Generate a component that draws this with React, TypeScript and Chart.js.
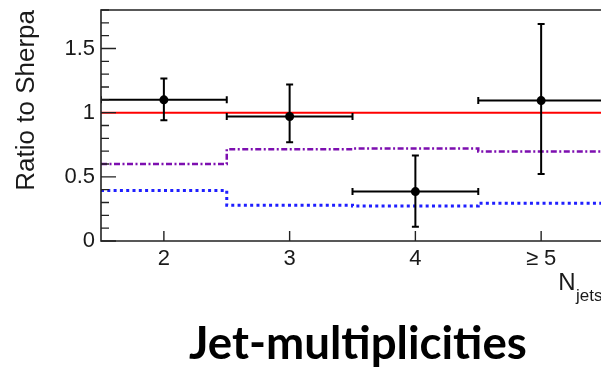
import { useEffect, useRef } from 'react';
import { Chart, registerables } from 'chart.js';

Chart.register(...registerables);

// ---- data ----
const binEdges = [1.5, 2.5, 3.5, 4.5, 5.5];
const binCenters = [2, 3, 4, 5];
const categoryLabels = ['2', '3', '4', '≥ 5'];
const dataRatio = [1.10, 0.97, 0.385, 1.094];
const dataHigh = [1.266, 1.22, 0.667, 1.69];
const dataLow = [0.94, 0.77, 0.112, 0.523];
const sherpaRatio = [1, 1, 1, 1];
const purpleRatio = [0.60, 0.715, 0.72, 0.698];
const blueRatio = [0.393, 0.279, 0.272, 0.294];
const yMajorTicks = [0, 0.5, 1, 1.5];
const yMajorLabels = ['0', '0.5', '1', '1.5'];
const yMinorStep = 0.1;
const yMin = 0;
const yMax = 1.8;
const xMin = 1.5;
const xMax = 5.476;
const yTitle = 'Ratio to Sherpa';
const xTitleMain = 'N';
const xTitleSub = 'jets';
const chartTitle = 'Jet-multiplicities';

const FONT = "'Liberation Sans', Arial, Helvetica, sans-serif";
const TEXT = '#1a1a1a';

const stepPoints = (vals: number[]) =>
  binEdges.map((e, i) => ({ x: e, y: vals[Math.min(i, vals.length - 1)] }));

const zeroPadding = (s: any) => {
  s.paddingTop = 0;
  s.paddingBottom = 0;
  s.paddingLeft = 0;
  s.paddingRight = 0;
};

const decorPlugin = {
  id: 'decor',
  beforeDatasetDraw(chart: any, args: any) {
    if (args.index !== 0) return;
    const { ctx, chartArea } = chart;
    const xs = chart.scales.x;
    const ys = chart.scales.y;
    ctx.save();
    ctx.beginPath();
    ctx.rect(chartArea.left, chartArea.top, chartArea.right - chartArea.left, chartArea.bottom - chartArea.top);
    ctx.clip();
    ctx.strokeStyle = '#000';
    ctx.lineWidth = 2;
    const cap = 3.5;
    for (let i = 0; i < binCenters.length; i++) {
      const cx = xs.getPixelForValue(binCenters[i]);
      const cy = ys.getPixelForValue(dataRatio[i]);
      const x0 = xs.getPixelForValue(binEdges[i]);
      const x1 = xs.getPixelForValue(binEdges[i + 1]);
      const yh = ys.getPixelForValue(dataHigh[i]);
      const yl = ys.getPixelForValue(dataLow[i]);
      ctx.beginPath();
      ctx.moveTo(x0, cy); ctx.lineTo(x1, cy);
      ctx.moveTo(x0, cy - cap); ctx.lineTo(x0, cy + cap);
      ctx.moveTo(x1, cy - cap); ctx.lineTo(x1, cy + cap);
      ctx.moveTo(cx, yh); ctx.lineTo(cx, yl);
      ctx.moveTo(cx - cap, yh); ctx.lineTo(cx + cap, yh);
      ctx.moveTo(cx - cap, yl); ctx.lineTo(cx + cap, yl);
      ctx.stroke();
    }
    ctx.restore();
  },
  afterDraw(chart: any) {
    const { ctx, chartArea } = chart;
    const xs = chart.scales.x;
    const ys = chart.scales.y;
    const { left, right, top, bottom } = chartArea;
    ctx.save();
    ctx.strokeStyle = '#222';
    ctx.lineWidth = 1.6;
    ctx.beginPath();
    ctx.moveTo(right + 2, top); ctx.lineTo(left, top); ctx.lineTo(left, bottom); ctx.lineTo(right + 2, bottom);
    ctx.stroke();
    ctx.lineWidth = 1.4;
    ctx.beginPath();
    for (let v = yMin; v <= yMax + 1e-9; v += yMinorStep) {
      const y = ys.getPixelForValue(v);
      const major = yMajorTicks.some((m) => Math.abs(m - v) < 1e-6);
      ctx.moveTo(left, y);
      ctx.lineTo(left + (major ? 15 : 8), y);
    }
    for (const c of binCenters) {
      const x = xs.getPixelForValue(c);
      ctx.moveTo(x, bottom);
      ctx.lineTo(x, bottom - 10);
    }
    ctx.stroke();

    // x-axis title with subscript
    ctx.fillStyle = TEXT;
    ctx.textBaseline = 'alphabetic';
    ctx.textAlign = 'left';
    ctx.font = `24px ${FONT}`;
    const nx = xs.getPixelForValue(5) + 17;
    ctx.fillText(xTitleMain, nx, bottom + 49);
    const nw = ctx.measureText(xTitleMain).width;
    ctx.font = `17px ${FONT}`;
    ctx.fillText(xTitleSub, nx + nw + 0.5, bottom + 60);

    // big title
    ctx.fillStyle = '#000';
    ctx.font = `bold 100px Lato, 'Open Sans', sans-serif`;
    const w100 = ctx.measureText(chartTitle).width;
    const size = (100 * 338) / w100;
    ctx.font = `bold ${size}px Lato, 'Open Sans', sans-serif`;
    ctx.fillText(chartTitle, 189, 359);
    ctx.restore();
  },
};

export default function App() {
  const ref = useRef<HTMLCanvasElement | null>(null);
  useEffect(() => {
    if (!ref.current) return;
    const chart = new Chart(ref.current, {
      type: 'scatter',
      data: {
        datasets: [
          {
            type: 'scatter',
            data: binCenters.map((x, i) => ({ x, y: dataRatio[i] })),
            pointRadius: 4.5,
            pointHoverRadius: 4.5,
            backgroundColor: '#000',
            borderWidth: 0,
          } as any,
          {
            type: 'line',
            data: stepPoints(sherpaRatio),
            borderColor: '#ff0000',
            borderWidth: 2,
            pointRadius: 0,
            stepped: true,
            fill: false,
          } as any,
          {
            type: 'line',
            data: stepPoints(purpleRatio),
            borderColor: '#7d0fb0',
            borderWidth: 2.5,
            borderDash: [6, 2.5, 2, 2.5],
            pointRadius: 0,
            stepped: true,
            fill: false,
          } as any,
          {
            type: 'line',
            data: stepPoints(blueRatio),
            borderColor: '#1f1fff',
            borderWidth: 3,
            borderDash: [3, 3.3],
            pointRadius: 0,
            stepped: true,
            fill: false,
          } as any,
        ],
      },
      options: {
        responsive: false,
        animation: false,
        events: [],
        layout: { autoPadding: false, padding: { top: 10, left: 0, right: 0, bottom: 0 } },
        plugins: { legend: { display: false }, tooltip: { enabled: false }, title: { display: false } },
        scales: {
          x: {
            type: 'linear',
            min: xMin,
            max: xMax,
            grid: { display: false, drawTicks: false },
            border: { display: false },
            afterBuildTicks: (s: any) => {
              s.ticks = binCenters.map((v) => ({ value: v }));
            },
            afterFit: (s: any) => {
              s.height = 129;
              zeroPadding(s);
            },
            ticks: {
              autoSkip: false,
              maxRotation: 0,
              padding: 5,
              color: TEXT,
              font: { family: FONT, size: 22 },
              callback: (v: any) => {
                const i = binCenters.indexOf(Number(v));
                return i >= 0 ? categoryLabels[i] : '';
              },
            },
          },
          y: {
            type: 'linear',
            min: yMin,
            max: yMax,
            grid: { display: false, drawTicks: false },
            border: { display: false },
            afterBuildTicks: (s: any) => {
              s.ticks = yMajorTicks.map((v) => ({ value: v }));
            },
            afterFit: (s: any) => {
              s.width = 101;
              zeroPadding(s);
            },
            ticks: {
              padding: 6,
              color: TEXT,
              font: { family: FONT, size: 22 },
              callback: (v: any) => {
                const i = yMajorTicks.indexOf(Number(v));
                return i >= 0 ? yMajorLabels[i] : '';
              },
            },
            title: {
              display: true,
              text: yTitle,
              align: 'end',
              color: TEXT,
              font: { family: FONT, size: 26 },
              padding: { top: 11, bottom: 0 },
            },
          },
        },
      },
      plugins: [decorPlugin],
    });
    return () => chart.destroy();
  }, []);
  return (
    <div style={{ position: 'absolute', left: 0, top: 0, width: 601, height: 370, background: '#fff' }}>
      <canvas ref={ref} width={601} height={370} style={{ display: 'block' }} />
    </div>
  );
}
